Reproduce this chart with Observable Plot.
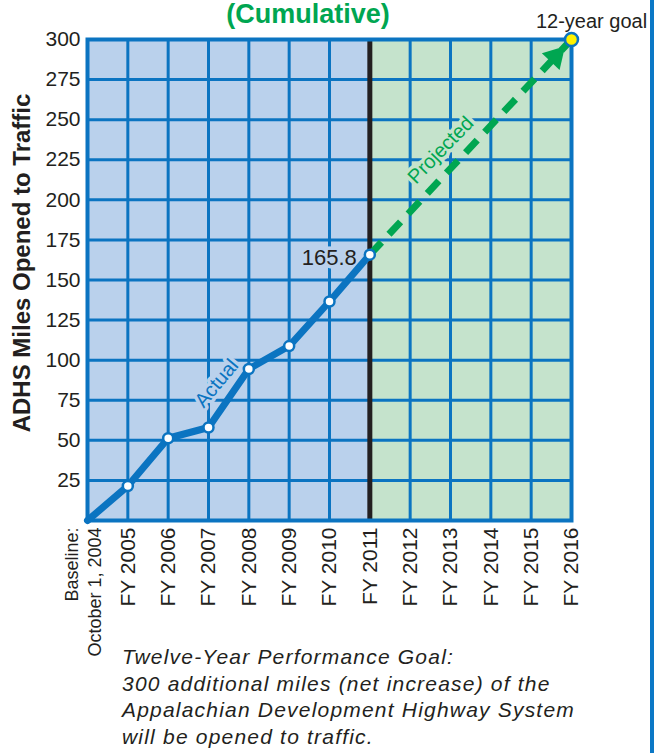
<!DOCTYPE html>
<html><head><meta charset="utf-8">
<script src="https://cdn.jsdelivr.net/npm/d3@7"></script>
<script src="https://cdn.jsdelivr.net/npm/@observablehq/plot@0.6"></script>
<style>
body{margin:0;background:#fff;}
#wrap{position:relative;width:662px;height:753px;overflow:hidden;font-family:"Liberation Sans",Arial,sans-serif;}
#chart{position:absolute;left:0;top:0;}
#title{position:absolute;left:0;width:616px;top:-1px;text-align:center;font-weight:bold;font-size:27px;line-height:30px;color:#00a651;}
#border{position:absolute;left:650px;top:0;width:4px;height:753px;background:#0b78c6;}
#caption{position:absolute;left:122px;top:644px;font-style:italic;font-size:21px;line-height:26.5px;color:#231f20;letter-spacing:1.2px;white-space:nowrap;}
</style></head><body>
<div id="wrap"><div id="chart"></div><div id="title">(Cumulative)</div><div id="border"></div>
<div id="caption">Twelve-Year Performance Goal:<br>300 additional miles (net increase) of the<br>Appalachian Development Highway System<br>will be opened to traffic.</div></div>
<script>
// ---- data ----
const xLabels = ["Baseline", "FY 2005", "FY 2006", "FY 2007", "FY 2008", "FY 2009", "FY 2010", "FY 2011", "FY 2012", "FY 2013", "FY 2014", "FY 2015", "FY 2016"];
const baselineLabel = "Baseline:\nOctober 1, 2004";
const actualYears = ["Baseline", "FY 2005", "FY 2006", "FY 2007", "FY 2008", "FY 2009", "FY 2010", "FY 2011"];
const actualMiles = [0, 21.5, 51.3, 58, 94.5, 108.8, 136.6, 165.8];
const projectedYears = ["FY 2011", "FY 2016"];
const projectedMiles = [165.8, 300];
const goalYear = "FY 2016";
const goalMiles = 300;
const yTicks = [25, 50, 75, 100, 125, 150, 175, 200, 225, 250, 275, 300];
const yLabel = "ADHS Miles Opened to Traffic";
const goalLabel = "12-year goal";

// ---- build ----
const X = l => xLabels.indexOf(l);
const actual = actualYears.map((y, i) => ({x: X(y), v: actualMiles[i]}));
const projected = projectedYears.map((y, i) => ({x: X(y), v: projectedMiles[i]}));
const goal = [{x: X(goalYear), v: goalMiles}];
const splitYear = "FY 2011";
const regions = [
  {x1: X(xLabels[0]), x2: X(splitYear), fill: "#bad1ec"},
  {x1: X(splitYear), x2: X(xLabels[xLabels.length - 1]), fill: "#c5e3cc"}
];
const BLUE = "#0b74c1", GREEN = "#00a651", INK = "#231f20";
const lastActual = actual[actual.length - 1];
const a1 = actual[3], a2 = actual[4];
const actualLabelPos = [{x: (a1.x + a2.x) / 2, v: (a1.v + a2.v) / 2}];
const projLabelPos = [{x: (projected[0].x + projected[1].x) / 2, v: (projected[0].v + projected[1].v) / 2}];

const chart = Plot.plot({
  width: 662, height: 645,
  marginLeft: 87, marginRight: 91, marginTop: 39, marginBottom: 125,
  style: {fontFamily: "'Liberation Sans', Arial, sans-serif", fontSize: "21px", background: "transparent", color: INK, overflow: "visible"},
  x: {domain: [0, xLabels.length - 1], axis: null, label: null},
  y: {domain: [0, goalMiles], axis: null, label: null},
  color: {type: "identity"},
  marks: [
    Plot.rect(regions, {x1: "x1", x2: "x2", y1: 0, y2: goalMiles, fill: "fill"}),
    Plot.ruleX(d3.range(1, xLabels.length - 1), {stroke: BLUE, strokeWidth: 3}),
    Plot.ruleY(yTicks, {stroke: BLUE, strokeWidth: 3}),
    Plot.ruleX([X(splitYear)], {y1: 0, y2: goalMiles, stroke: INK, strokeWidth: 5}),
    Plot.frame({stroke: BLUE, strokeWidth: 4}),
    Plot.axisY(yTicks, {label: null, tickSize: 0, tickPadding: 7, fontSize: 21, fill: INK}),
    Plot.axisX(d3.range(1, xLabels.length), {label: null, tickFormat: i => xLabels[i], tickRotate: -90, tickSize: 0, tickPadding: 7, fontSize: 21, fill: INK}),
    Plot.axisX([0], {label: null, tickFormat: () => baselineLabel, tickRotate: -90, tickSize: 0, tickPadding: 7, fontSize: 18, lineHeight: 1.25, dx: -5, fill: INK}),
    Plot.text([yLabel], {frameAnchor: "left", rotate: -90, dx: -65, dy: -17, fontSize: 24, fontWeight: "bold", fill: INK, textAnchor: "middle"}),
    // labels with knockout halos
    Plot.text(actualLabelPos, {x: "x", y: "v", text: () => "Actual", rotate: -50, dx: -12, dy: -15, fontSize: 20, fill: BLUE, stroke: "#bad1ec", strokeWidth: 7}),
    Plot.text(projLabelPos, {x: "x", y: "v", text: () => "Projected", rotate: -46, dx: -30, dy: 3, fontSize: 20, fill: GREEN, stroke: "#c5e3cc", strokeWidth: 7}),
    Plot.text([lastActual], {x: "x", y: "v", text: d => String(d.v), textAnchor: "end", dx: -13, dy: 3, fontSize: 22, fill: INK, stroke: "#bad1ec", strokeWidth: 7}),
    // lines
    Plot.line(projected, {x: "x", y: "v", stroke: GREEN, strokeWidth: 7, strokeDasharray: "17,11", strokeLinecap: "butt"}),
    Plot.dot(goal, {x: "x", y: "v", symbol: "triangle", r: 9, rotate: 43, fill: GREEN, dx: -16, dy: 17}),
    Plot.line(actual, {x: "x", y: "v", stroke: BLUE, strokeWidth: 7, strokeLinejoin: "miter"}),
    Plot.dot(actual.slice(1), {x: "x", y: "v", r: 5, fill: "white", stroke: BLUE, strokeWidth: 2.5}),
    Plot.dot(goal, {x: "x", y: "v", r: 6.5, fill: "#fff200", stroke: BLUE, strokeWidth: 2.5}),
    Plot.text(goal, {x: "x", y: "v", text: () => goalLabel, dx: 20, dy: -12, lineAnchor: "bottom", fontSize: 20, fill: INK})
  ]
});
document.getElementById("chart").appendChild(chart);
</script>
</body></html>
